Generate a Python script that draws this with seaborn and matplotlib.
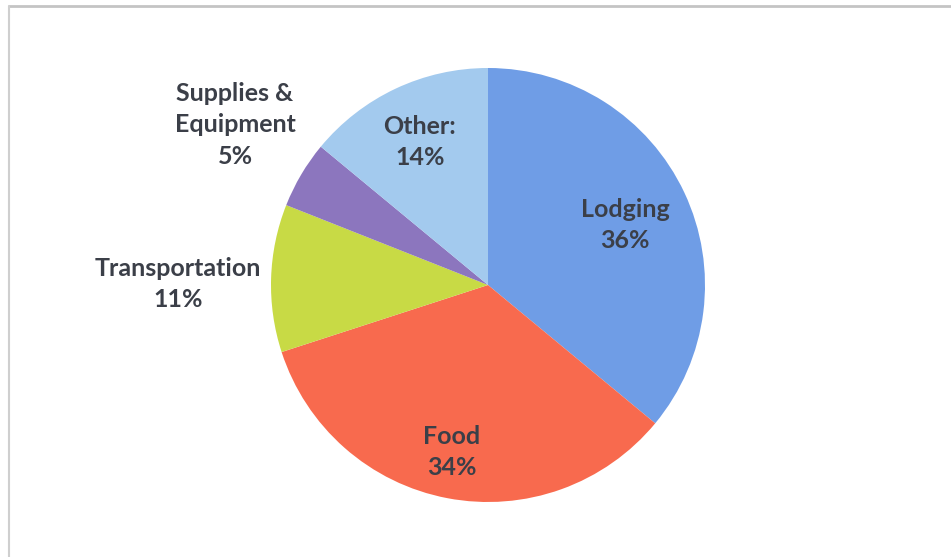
import matplotlib
matplotlib.use("Agg")
import matplotlib.pyplot as plt
from matplotlib.lines import Line2D
import seaborn as sns

categories = ["Lodging", "Food", "Transportation", "Supplies &\nEquipment", "Other:"]
shares = [36, 34, 11, 5, 14]
colors = ["#6f9de6", "#f86a4e", "#c8da45", "#8c76be", "#a3caee"]

sns.set_theme(style="white")
plt.rcParams["font.family"] = ["Lato", "DejaVu Sans"]

W, H = 951, 557
fig = plt.figure(figsize=(W / 100, H / 100), dpi=100)
fig.patch.set_facecolor("white")
ax = fig.add_axes([0, 0, 1, 1])

cx, cy, r = 488, H - 285, 217
ax.pie(shares, colors=colors, startangle=90, counterclock=False,
       center=(cx, cy), radius=r, frame=True,
       wedgeprops=dict(linewidth=0))
ax.set_xlim(0, W)
ax.set_ylim(0, H)
ax.set_aspect("equal")
ax.axis("off")

label_pos = [(625, 225), (452, 452), (178, 284), (235, 125), (420, 142)]
txt_color = "#3b3f48"
for cat, val, (x, y) in zip(categories, shares, label_pos):
    ax.text(x, H - y, f"{cat}\n{val}%", ha="center", va="center",
            fontsize=18, fontweight="bold", color=txt_color, linespacing=1.45)

# frame lines (top and left)
fig.add_artist(Line2D([9 / W, 1], [1 - 5.5 / H, 1 - 5.5 / H], transform=fig.transFigure,
                      color="#c4c4c4", linewidth=2))
fig.add_artist(Line2D([9 / W, 9 / W], [0, 1 - 5.5 / H], transform=fig.transFigure,
                      color="#cfcfcf", linewidth=1.5))

fig.savefig("out.png", dpi=100)
